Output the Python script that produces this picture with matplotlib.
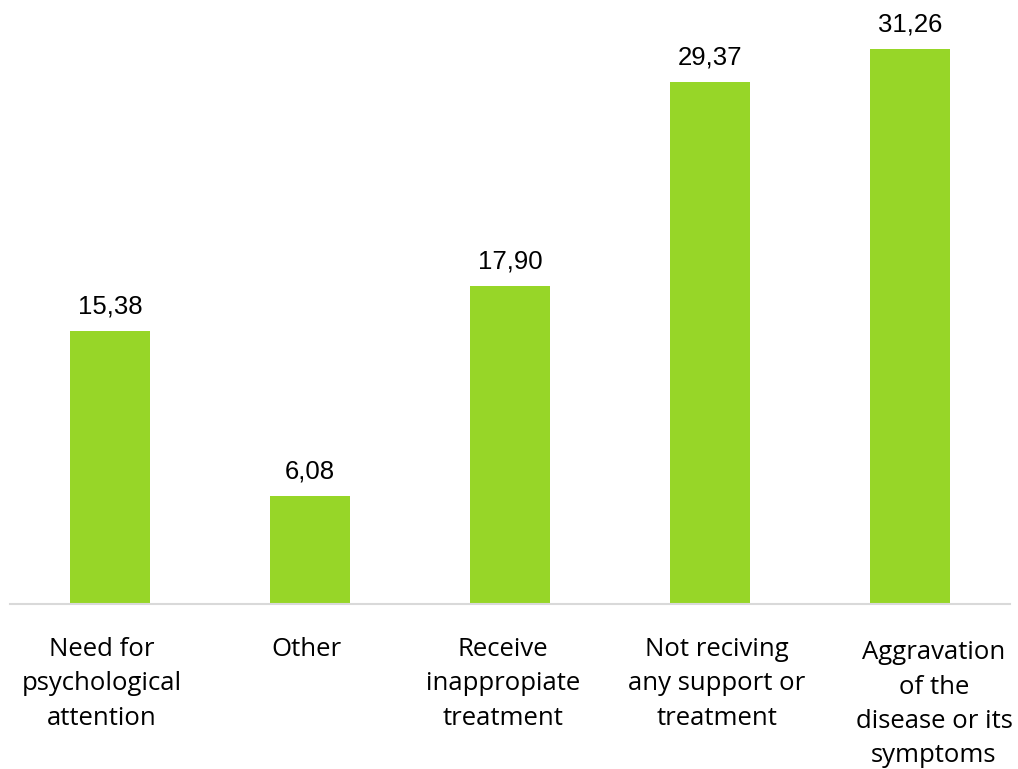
import matplotlib
matplotlib.use("Agg")
import matplotlib.pyplot as plt

categories = [
    "Need for\npsychological\nattention",
    "Other",
    "Receive\ninappropiate\ntreatment",
    "Not reciving\nany support or\ntreatment",
    "Aggravation\nof the\ndisease or its\nsymptoms",
]
values = [15.38, 6.08, 17.90, 29.37, 31.26]
value_labels = ["15,38", "6,08", "17,90", "29,37", "31,26"]

BAR_COLOR = "#97D628"
W, H = 1018, 769
fig = plt.figure(figsize=(W / 100, H / 100), dpi=100)
fig.patch.set_facecolor("white")

ax = fig.add_axes([10 / W, (H - 604) / H, 1000 / W, 604 / H])
x = list(range(len(categories)))
bars = ax.bar(x, values, width=0.4, color=BAR_COLOR, zorder=2)

ax.set_xlim(-0.5, 4.5)
ax.set_ylim(0, 34.0)
for side in ("top", "right", "left"):
    ax.spines[side].set_visible(False)
ax.spines["bottom"].set_color("#D9D9D9")
ax.spines["bottom"].set_linewidth(1.5)
ax.set_yticks([])
ax.set_xticks([])

for rect, lab in zip(bars, value_labels):
    ax.annotate(lab, (rect.get_x() + rect.get_width() / 2, rect.get_height()),
                xytext=(0, 9), textcoords="offset points",
                ha="center", va="bottom", fontsize=18.5,
                family="Liberation Sans", color="black")

# category labels under each bar, nudged slightly as in the original text boxes
nudge = [-0.04, -0.02, -0.035, 0.035, 0.12]
tops = [637, 637, 637, 637, 640]
sizes = [18.5, 18.5, 18.5, 18.5, 18.5]
for i, (cat, dx, yt, fs) in enumerate(zip(categories, nudge, tops, sizes)):
    xd = ax.transData.transform((i + dx, 0))[0]
    fig.text(xd / W, 1 - yt / H, cat, ha="center", va="top",
             fontsize=fs, family=["Open Sans", "DejaVu Sans"], linespacing=1.5,
             color="black")

fig.savefig("out.png", dpi=100, facecolor="white")
